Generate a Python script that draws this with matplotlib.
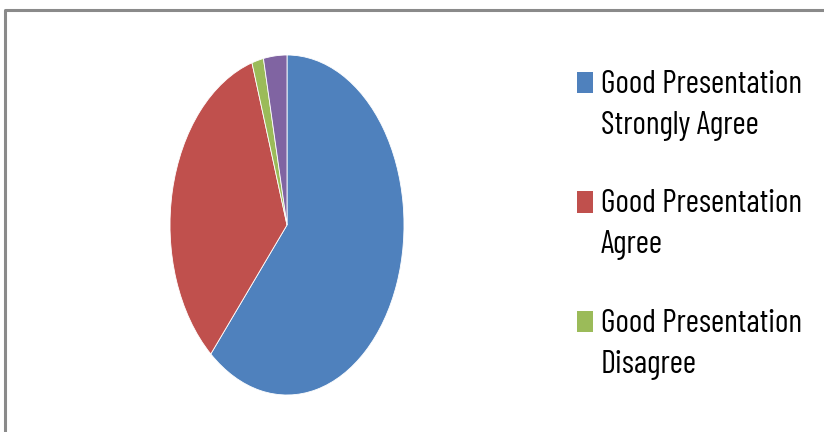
import matplotlib
matplotlib.use("Agg")
import matplotlib.pyplot as plt
from matplotlib.font_manager import FontProperties
from matplotlib.textpath import TextPath
from matplotlib.patches import Rectangle

labels = ["Good Presentation\nStrongly Agree", "Good Presentation\nAgree",
          "Good Presentation\nDisagree", "Good Presentation\nStrongly Disagree"]
counts = [38, 21, 1, 2]
colors = ["#4F81BD", "#C0504D", "#9BBB59", "#8064A2"]
shown = 3  # the last legend entry is cut off in the original

# condensed face standing in for the squeezed Calibri; size it by cap height
font = "Barlow Condensed"
weight = "normal"
cap = TextPath((0, 0), "H", size=100,
               prop=FontProperties(family=font, weight=weight)).get_extents().height / 100
fsize = 22.5 / cap * 72 / 100

fig = plt.figure(figsize=(8.24, 4.32), dpi=100)

# grey frame of the chart area (right and bottom edges fall outside)
fig.add_artist(plt.Line2D([0.006, 0.006, 1.0], [0.0, 0.977, 0.977],
                          transform=fig.transFigure, color="#8a8a8a", lw=2.2))

ax = fig.add_axes([170 / 824, 37 / 432, 234 / 824, 340 / 432])
ax.pie(counts, colors=colors, startangle=90, counterclock=False,
       wedgeprops=dict(edgecolor="white", linewidth=0.6))
ax.set_aspect("auto")
ax.set_xlim(-1, 1)
ax.set_ylim(-1, 1)
ax.axis("off")

# legend: square next to the first line of each two-line label
for i in range(shown):
    base = 93 + 119.5 * i
    fig.add_artist(Rectangle((577 / 824, 1 - base / 432), 16 / 824, 21 / 432,
                             transform=fig.transFigure, facecolor=colors[i], edgecolor="none"))
    for j, line in enumerate(labels[i].split("\n")):
        fig.text(601 / 824, 1 - (base + 41 * j) / 432, line, family=font, size=fsize,
                 weight=weight, color="black", ha="left", va="baseline")

fig.savefig("out.png", dpi=100)
